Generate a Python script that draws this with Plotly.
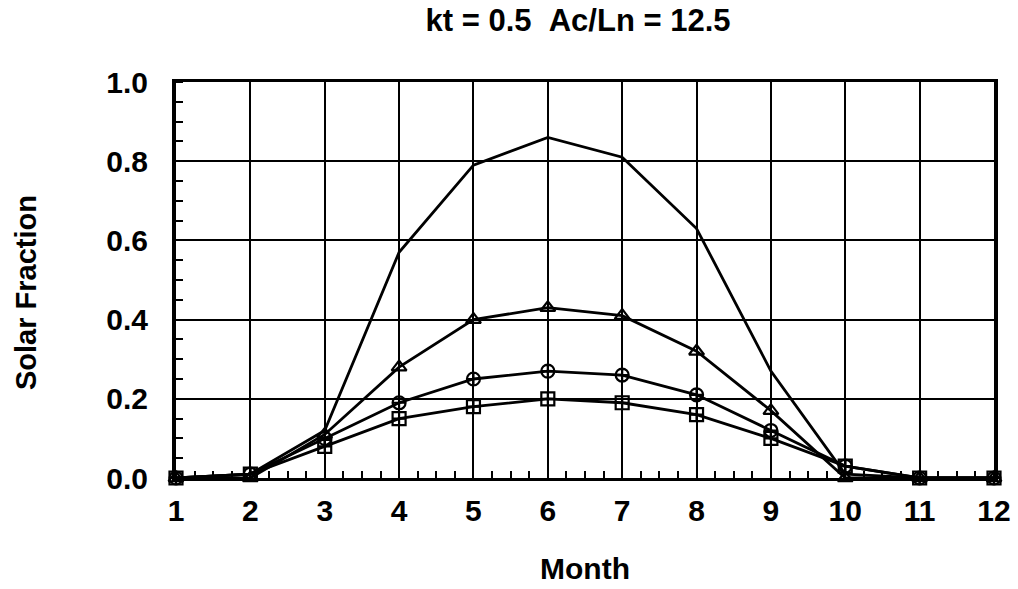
import plotly.graph_objects as go

months = list(range(1, 13))

# Solar fraction by month for four collector configurations
sf_top = [0.0, 0.01, 0.12, 0.57, 0.79, 0.86, 0.81, 0.63, 0.27, 0.01, 0.0, 0.0]
sf_triangle = [0.0, 0.0, 0.11, 0.28, 0.40, 0.43, 0.41, 0.32, 0.17, 0.0, 0.0, 0.0]
sf_circle = [0.0, 0.01, 0.10, 0.19, 0.25, 0.27, 0.26, 0.21, 0.12, 0.03, 0.0, 0.0]
sf_square = [0.0, 0.01, 0.08, 0.15, 0.18, 0.20, 0.19, 0.16, 0.10, 0.03, 0.0, 0.0]

y_ticks = [0.0, 0.2, 0.4, 0.6, 0.8, 1.0]
y_tick_labels = ["0.0", "0.2", "0.4", "0.6", "0.8", "1.0"]

FONT = "Liberation Sans, Arial, Helvetica, sans-serif"
LINE_W = 2.8

fig = go.Figure()

fig.add_trace(go.Scatter(
    x=months, y=sf_top, mode="lines",
    line=dict(color="black", width=LINE_W), cliponaxis=False, showlegend=False))

series = [
    (sf_triangle, "triangle-up-open"),
    (sf_circle, "circle-cross-open"),
    (sf_square, "square-cross-open"),
]
for vals, sym in series:
    fig.add_trace(go.Scatter(
        x=months, y=vals, mode="lines+markers",
        line=dict(color="black", width=LINE_W),
        marker=dict(symbol=sym, size=13, color="black",
                    line=dict(color="black", width=2.2)),
        cliponaxis=False, showlegend=False))

bold = dict(family=FONT, weight="bold", color="black")

fig.update_layout(
    width=1018, height=589,
    margin=dict(l=176, r=24, t=82, b=111),
    paper_bgcolor="white", plot_bgcolor="white",
    font=dict(family=FONT, color="black", size=22),
    title=dict(text="kt = 0.5\u00a0\u00a0Ac/Ln = 12.5", x=578 / 1018, xanchor="center",
               xref="container",
               y=1 - 20 / 589, yanchor="middle", yref="container",
               font=dict(size=31, **bold)),
    annotations=[
        dict(text="Solar Fraction", textangle=-90, xref="paper", yref="paper",
             x=-150 / 818, y=(478 - 293) / 396, xanchor="center", yanchor="middle",
             showarrow=False, font=dict(size=29, **bold)),
    ],
)

fig.update_xaxes(
    range=[1, 12], tickmode="array", tickvals=months,
    ticktext=[str(m) for m in months], automargin=False,
    showgrid=True, gridcolor="black", gridwidth=2,
    showline=True, linecolor="black", linewidth=3, mirror=True,
    ticks="", zeroline=False,
    minor=dict(dtick=0.25, ticks="inside", ticklen=7, tickwidth=2,
               tickcolor="black", showgrid=False),
    tickfont=dict(size=30, **bold), ticklabelstandoff=4,
    title=dict(text="Month", font=dict(size=30, **bold), standoff=32),
)

fig.update_yaxes(
    range=[0, 1], tickmode="array", tickvals=y_ticks, ticktext=y_tick_labels,
    automargin=False,
    showgrid=True, gridcolor="black", gridwidth=2,
    showline=True, linecolor="black", linewidth=4, mirror=True,
    ticks="", zeroline=False,
    minor=dict(dtick=0.05, ticks="inside", ticklen=7, tickwidth=2,
               tickcolor="black", showgrid=False),
    tickfont=dict(size=30, **bold), ticklabelstandoff=18,
)

fig.write_html("out.html")
